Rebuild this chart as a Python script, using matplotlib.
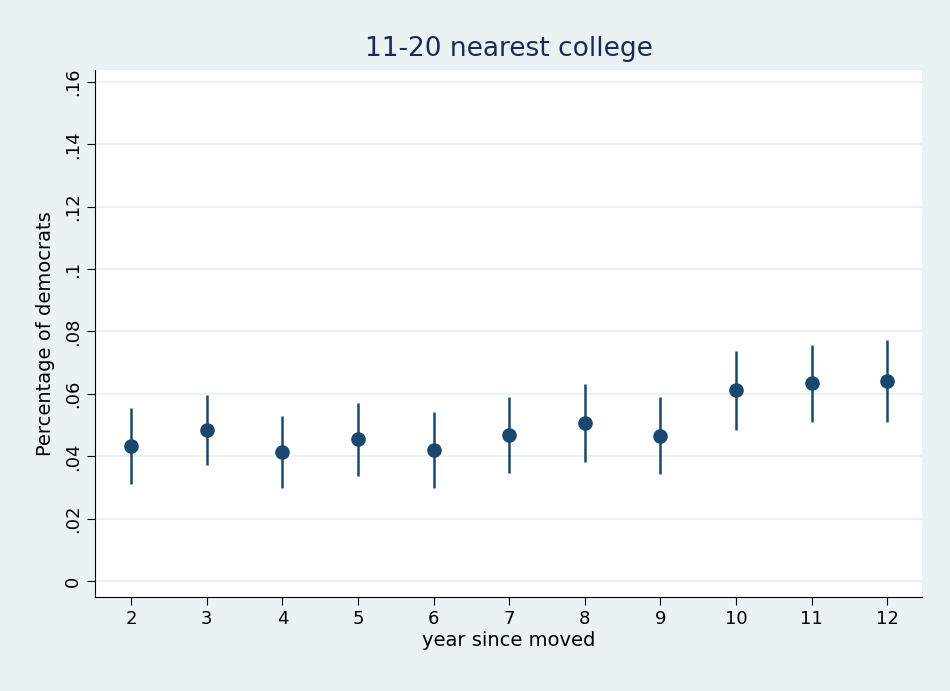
import numpy as np
import matplotlib.pyplot as plt

years = [2, 3, 4, 5, 6, 7, 8, 9, 10, 11, 12]
est = [0.0433, 0.0484, 0.0414, 0.0455, 0.0420, 0.0468, 0.0507, 0.0465, 0.0612, 0.0635, 0.0641]
ci_hi = [0.0555, 0.0596, 0.0529, 0.0571, 0.0542, 0.0590, 0.0632, 0.0590, 0.0737, 0.0757, 0.0773]
ci_lo = [0.0310, 0.0372, 0.0298, 0.0337, 0.0298, 0.0346, 0.0382, 0.0343, 0.0484, 0.0510, 0.0510]
yticks = [0, 0.02, 0.04, 0.06, 0.08, 0.1, 0.12, 0.14, 0.16]
ylabels = ['0', '.02', '.04', '.06', '.08', '.1', '.12', '.14', '.16']

bg = '#EAF2F3'
navy = '#1A476F'

fig = plt.figure(figsize=(9.5, 6.91), dpi=100, facecolor=bg)
ax = fig.add_axes([95/950, 1-597/691, (922-95)/950, (597-70)/691])
ax.set_facecolor('white')

ax.vlines(years, ci_lo, ci_hi, color=navy, lw=1.8, zorder=2)
ax.scatter(years, est, s=90, color=navy, zorder=3)

ax.set_xlim(1.52, 12.46)
ax.set_ylim(-0.0051, 0.1638)
ax.set_xticks(years)
ax.set_yticks(yticks)
ax.set_yticklabels(ylabels, rotation=90, va='center')
ax.tick_params(labelsize=13, length=6, color='black')
ax.grid(axis='y', color='#EAF2F3', lw=1.5)
ax.set_axisbelow(True)
for s in ['top', 'right']:
    ax.spines[s].set_visible(False)

ax.set_xlabel('year since moved', fontsize=14, labelpad=2)
ax.set_ylabel('Percentage of democrats', fontsize=14, labelpad=6)
ax.set_title('11-20 nearest college', fontsize=19, color='#1A2A5A', pad=10)

fig.savefig('out.png', dpi=100, facecolor=bg)
